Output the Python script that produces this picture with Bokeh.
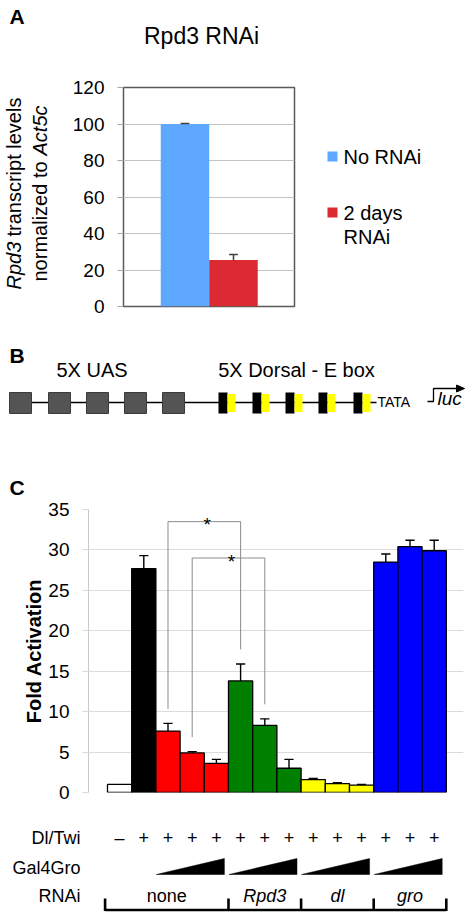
import math
from bokeh.plotting import figure
from bokeh.models import Range1d, FixedTicker
from bokeh.layouts import column, row
from bokeh.embed import file_html
from bokeh.resources import INLINE
from bokeh.core.properties import value

FONT = "Liberation Sans"

# ---------------- data ----------------
# Panel A
a_labels = ["No RNAi", "2 days\nRNAi"]
a_values = [100.0, 25.5]
a_errors = [0.3, 3.0]
a_colors = ["#5fa8ff", "#dc2a33"]
a_ticks = [0, 20, 40, 60, 80, 100, 120]

# Panel C
c_values = [1.0, 27.7, 7.6, 4.9, 3.6, 13.8, 8.3, 3.0, 1.6, 1.1, 0.9, 28.5, 30.4, 29.9]
c_errors = [0.0, 1.6, 0.95, 0.15, 0.5, 2.1, 0.8, 1.1, 0.15, 0.1, 0.1, 1.0, 0.8, 1.3]
c_colors = ["white", "black", "#ff0000", "#ff0000", "#ff0000", "#008000", "#008000", "#008000",
            "#ffff00", "#ffff00", "#ffff00", "#0000ff", "#0000ff", "#0000ff"]
c_ticks = [0, 5, 10, 15, 20, 25, 30, 35]
dl_twi = ["–", "+", "+", "+", "+", "+", "+", "+", "+", "+", "+", "+", "+", "+"]
gal4gro_groups = [(3, 5), (6, 8), (9, 11), (12, 14)]
rnai_names = ["none", "Rpd3", "dl", "gro"]
rnai_italic = [False, True, True, True]
rnai_ranges = [(1, 5), (6, 8), (9, 11), (12, 14)]
sig_pairs = [(3, 6), (4, 7)]
sig_tops = [33.5, 29.0]
row_names = ["Dl/Twi", "Gal4Gro", "RNAi"]


def canvas(w, h, x0, x1, ytop, ybot):
    """A figure whose frame fills it, in page-pixel coordinates (y grows downwards)."""
    p = figure(width=w, height=h, x_range=Range1d(x0, x1), y_range=Range1d(ybot, ytop),
               output_backend="svg", toolbar_location=None, min_border=0,
               x_axis_location=None, y_axis_location=None)
    p.xgrid.visible = False
    p.ygrid.visible = False
    p.outline_line_color = None
    p.background_fill_color = "white"
    p.border_fill_color = "white"
    return p


def txt(p, x, y, text, size, style="normal", align="left", angle=0.0, baseline="middle"):
    p.text(x=[x], y=[y], text=[text], text_font=value(FONT), text_font_size=f"{size}px",
           text_font_style=style, text_align=align, text_baseline=baseline, angle=angle,
           text_color="black")


# ---------------- Panel A header ----------------
ha = canvas(470, 76, 0, 470, 0, 76)
txt(ha, 9, 16, "A", 21, style="bold")
txt(ha, 201, 35, "Rpd3 RNAi", 23, align="center")

# ---------------- Panel A y label ----------------
half = math.pi / 2
ya = canvas(60, 259, 0, 60, 76, 335)
txt(ya, 13.5, 289, "Rpd3", 20, style="italic", angle=half)
txt(ya, 13.5, 289 - 53, "transcript levels", 20, angle=half)
txt(ya, 39.5, 281, "normalized to", 20, angle=half)
txt(ya, 39.5, 281 - 126, "Act5c", 20, style="italic", angle=half)

# ---------------- Panel A chart ----------------
XA0, XA1 = -0.268, 3.258
pa = figure(width=240, height=259, x_range=Range1d(XA0, XA1), y_range=Range1d(0, 120),
            output_backend="svg", toolbar_location=None,
            min_border_left=63, min_border_right=6, min_border_top=11, min_border_bottom=29)
pa.xaxis.visible = False
pa.xgrid.visible = False
pa.yaxis.ticker = FixedTicker(ticks=a_ticks)
pa.yaxis.axis_line_color = None
pa.yaxis.major_tick_line_color = "#a6a6a6"
pa.yaxis.major_tick_out = 6
pa.yaxis.major_tick_in = 0
pa.yaxis.minor_tick_line_color = None
pa.yaxis.major_label_text_font = FONT
pa.yaxis.major_label_text_font_size = "19px"
pa.yaxis.major_label_text_color = "black"
pa.yaxis.major_label_standoff = 13
pa.ygrid.grid_line_color = "#c4c4c4"
pa.outline_line_color = "#595959"
pa.outline_line_width = 1.5
pa.background_fill_color = "white"
pa.border_fill_color = "white"

xa = [1, 2]
pa.vbar(x=xa, top=a_values, width=1.0, fill_color=a_colors, line_color=None)
a_tops = [v + e for v, e in zip(a_values, a_errors)]
pa.segment(x0=xa, y0=a_values, x1=xa, y1=a_tops, line_color="#404040", line_width=1.5)
pa.segment(x0=[x - 0.09 for x in xa], y0=a_tops, x1=[x + 0.09 for x in xa], y1=a_tops,
           line_color="#404040", line_width=1.5)

# ---------------- Panel A legend ----------------
pl = canvas(170, 259, 300, 470, 76, 335)
leg_y = [156, 212]
pl.rect(x=[332, 332], y=leg_y, width=10, height=10, fill_color=a_colors, line_color=None)
for y0, name in zip(leg_y, a_labels):
    for k, part in enumerate(name.split("\n")):
        txt(pl, 343, y0 + 24 * k, part, 20)

# ---------------- Panel B diagram ----------------
pb = canvas(470, 163, 0, 470, 335, 498)
pb.line(x=[20, 376], y=[402, 402], line_color="black", line_width=1.5)
uas_left = [9, 48, 86, 124, 162]
pb.rect(x=[u + 11 for u in uas_left], y=[402.5] * 5, width=22, height=21,
        fill_color="#545454", line_color="#3a3a3a", line_width=1)
de_left = [218, 252, 285, 318, 353]
pb.rect(x=[d + 4.5 for d in de_left], y=[402.5] * 5, width=9, height=21,
        fill_color="black", line_color=None)
pb.rect(x=[d + 13 for d in de_left], y=[402.5] * 5, width=8, height=18,
        fill_color="#ffff00", line_color=None)
pb.line(x=[427, 433, 433, 458], y=[401, 401, 388, 388], line_color="black", line_width=1.3)
pb.patch(x=[456, 464, 456], y=[384.5, 388, 391.5], fill_color="black", line_color="black")
txt(pb, 9, 355, "B", 21, style="bold")
txt(pb, 91.5, 369, "5X UAS", 20, align="center")
txt(pb, 296, 369, "5X Dorsal - E box", 20, align="center")
txt(pb, 377, 401, "TATA", 14)
txt(pb, 437, 398, "luc", 19, style="italic")
txt(pb, 9, 487, "C", 21, style="bold")

# ---------------- Panel C chart ----------------
S = 24.2          # px per bar
CX0 = -0.285      # data x at frame left (page x 88)
C_L = 88


def cx(px):
    return CX0 + (px - C_L) / S


pc = figure(width=470, height=307, x_range=Range1d(CX0, cx(463)), y_range=Range1d(0, 35),
            output_backend="svg", toolbar_location=None,
            min_border_left=88, min_border_right=7, min_border_top=11, min_border_bottom=13)
pc.xaxis.visible = False
pc.xgrid.visible = False
pc.outline_line_color = None
pc.background_fill_color = "white"
pc.border_fill_color = "white"
pc.yaxis.ticker = FixedTicker(ticks=c_ticks)
pc.yaxis.axis_line_color = "#c8c8c8"
pc.yaxis.major_tick_line_color = "#d9d9d9"
pc.yaxis.major_tick_out = 6
pc.yaxis.major_tick_in = 0
pc.yaxis.minor_tick_line_color = None
pc.yaxis.major_label_text_font = FONT
pc.yaxis.major_label_text_font_size = "19px"
pc.yaxis.major_label_text_color = "black"
pc.yaxis.major_label_standoff = 13
pc.yaxis.axis_label = "Fold Activation"
pc.yaxis.axis_label_text_font = FONT
pc.yaxis.axis_label_text_font_size = "20px"
pc.yaxis.axis_label_text_font_style = "bold"
pc.yaxis.axis_label_text_color = "black"
pc.yaxis.axis_label_standoff = 0
pc.ygrid.grid_line_color = "#dcdcdc"

xc = list(range(1, len(c_values) + 1))
pc.vbar(x=xc, top=c_values, width=1.0, fill_color=c_colors, line_color="black", line_width=1.3)
ex = [x for x, e in zip(xc, c_errors) if e > 0]
ey0 = [v for v, e in zip(c_values, c_errors) if e > 0]
ey1 = [v + e for v, e in zip(c_values, c_errors) if e > 0]
pc.segment(x0=ex, y0=ey0, x1=ex, y1=ey1, line_color="black", line_width=1.4)
pc.segment(x0=[x - 0.19 for x in ex], y0=ey1, x1=[x + 0.19 for x in ex], y1=ey1,
           line_color="black", line_width=1.4)

for (i, j), top in zip(sig_pairs, sig_tops):
    yl = c_values[i - 1] + c_errors[i - 1] + 1.8
    yr = c_values[j - 1] + c_errors[j - 1] + 1.8
    pc.line(x=[i, i, j, j], y=[yl, top, top, yr], line_color="#8c8c8c", line_width=1)
pc.text(x=[(i + j) / 2 + 0.12 for i, j in sig_pairs], y=[t - 0.4 for t in sig_tops],
        text=["*"] * len(sig_pairs), text_font=value(FONT), text_font_size="19px",
        text_align="center", text_baseline="alphabetic")

# ---------------- Panel C table ----------------
pt = canvas(470, 112, cx(0), cx(470), 805, 917)
ROW_Y = [837, 867, 895]
pt.text(x=[cx(80)] * 3, y=ROW_Y, text=row_names, text_font=value(FONT), text_font_size="18px",
        text_align="right", text_baseline="middle")
pt.text(x=xc, y=[ROW_Y[0]] * len(xc), text=dl_twi, text_font=value(FONT), text_font_size="18px",
        text_align="center", text_baseline="middle")
wx, wy = [], []
for g0, g1 in gal4gro_groups:
    left = g0 - 0.5 + 0.02
    right = g1 + 0.5 - 0.17
    wx.append([left, right, right])
    wy.append([874, 874, 858])
pt.patches(xs=wx, ys=wy, fill_color="black", line_color="black", line_width=0.5)

bounds = [rnai_ranges[0][0] - 0.6] + [r[1] + 0.5 for r in rnai_ranges]
pt.line(x=[bounds[0], bounds[-1]], y=[909.5, 909.5], line_color="black", line_width=2.6)
pt.segment(x0=bounds, y0=[898] * len(bounds), x1=bounds, y1=[910.5] * len(bounds),
           line_color="black", line_width=2.6)
for k, name in enumerate(rnai_names):
    mid = (bounds[k] + bounds[k + 1]) / 2
    txt(pt, mid, ROW_Y[2], name, 18, style="italic" if rnai_italic[k] else "normal",
        align="center")

layout = column(row(ha), row(column(ya), pa, column(pl)), row(pb), row(pc), row(pt))
open("out.html", "w").write(file_html(layout, INLINE))
